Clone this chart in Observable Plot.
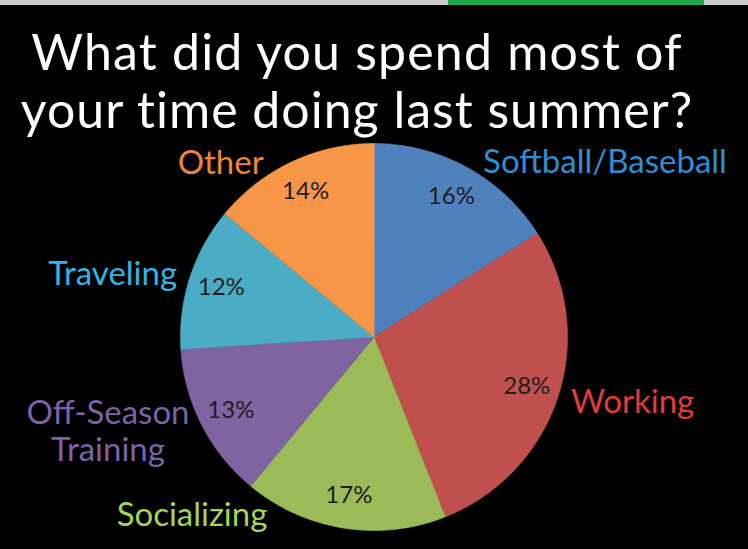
<!DOCTYPE html>
<html><head><meta charset="utf-8">
<script src="https://cdn.jsdelivr.net/npm/d3@7"></script>
<script src="https://cdn.jsdelivr.net/npm/@observablehq/plot@0.6"></script>
<style>
html,body{margin:0;padding:0;background:#000;}
#page{position:relative;width:748px;height:549px;overflow:hidden;background:#000;}
#strip{position:absolute;left:0;top:0;width:748px;height:5px;background:#cccccc;}
#strip .seg{position:absolute;left:448px;top:0;width:256px;height:5px;background:#1ca84b;}
#title{position:absolute;left:0;top:22px;width:714px;text-align:center;color:#fff;
  font-family:Lato, sans-serif;font-size:50px;line-height:58px;}
#title div{white-space:nowrap;}
#chart{position:absolute;left:0;top:140px;}
</style></head>
<body>
<div id="page">
  <div id="strip"><div class="seg"></div></div>
  <div id="title"></div>
  <div id="chart"></div>
</div>
<script>
// ---- data ----
const titleLines = ["What did you spend most of", "your time doing last summer?"];
const categories = ["Softball/Baseball", "Working", "Socializing", "Off-Season\nTraining", "Traveling", "Other"];
const percents = [16, 28, 17, 13, 12, 14];
const sliceColors = ["#4f81bd", "#c0504d", "#9bbb59", "#8064a2", "#4bacc6", "#f79646"];
const labelColors = ["#2f8fd2", "#e03c3e", "#a5d45c", "#7c62a8", "#2fb5e6", "#f0872e"];

// ---- title ----
const titleEl = d3.select("#title");
const titleSpacing = ["1.2px", "1px"];
titleLines.forEach((t, i) => titleEl.append("div").style("letter-spacing", titleSpacing[i]).text(t));

// ---- pie geometry ----
const W = 748, H = 409, cx = 373.5, cy = 196.5, R = 193.5;
const total = d3.sum(percents);
let acc = 0;
const slices = categories.map((name, i) => {
  const a0 = acc / total * 2 * Math.PI; acc += percents[i];
  const a1 = acc / total * 2 * Math.PI;
  return {name, value: percents[i], a0, a1, mid: (a0 + a1) / 2, i};
});
const outline = slices.flatMap(s => {
  const n = Math.max(2, Math.ceil((s.a1 - s.a0) / (Math.PI / 360)));
  const pts = [{name: s.name, x: 0, y: 0}];
  for (let k = 0; k <= n; k++) {
    const a = s.a0 + (s.a1 - s.a0) * k / n;
    pts.push({name: s.name, x: Math.sin(a), y: Math.cos(a)});
  }
  return pts;
});

// ---- outer name labels: just outside the slice, kept inside the frame ----
const nameSize = 33, lineH = 1.12;
const ctx = document.createElement("canvas").getContext("2d");
ctx.font = `${nameSize}px Lato`;
const rLab = 1.07, step = Math.PI / 360;
const nameLabels = slices.map(s => {
  const lines = s.name.split("\n");
  const w = d3.max(lines, l => ctx.measureText(l).width) / R;
  const h = (lines.length * nameSize * lineH) / R;
  const yTop = cy / R, yBot = -(H - cy) / R;
  const place = a => {
    const ax = rLab * Math.sin(a), ay = rLab * Math.cos(a);
    const sx = Math.sin(a);
    const x = sx > 0.05 ? ax + w / 2 : sx < -0.05 ? ax - w / 2 : ax;
    return {x, y: ay};
  };
  let a = s.mid, p, guard = 0;
  const side = Math.sin(s.mid) >= 0 ? 1 : -1;
  while (guard++ < 400) {
    p = place(a);
    if (p.y - h / 2 < yBot + 16 / R) { a -= side * step; continue; }
    if (p.y + h / 2 > yTop - 2 / R) { a += side * step; continue; }
    break;
  }
  return {name: s.name, x: p.x, y: p.y, color: labelColors[s.i]};
});

const chart = Plot.plot({
  width: W, height: H, margin: 0,
  style: {background: "transparent"},
  x: {domain: [-cx / R, (W - cx) / R], axis: null},
  y: {domain: [-(H - cy) / R, cy / R], axis: null},
  color: {domain: categories, range: sliceColors},
  marks: [
    Plot.line(outline, {x: "x", y: "y", z: "name", fill: "name", stroke: "name", strokeWidth: 0.6, curve: "linear-closed"}),
    Plot.text(slices, {
      x: d => 0.83 * Math.sin(d.mid), y: d => 0.83 * Math.cos(d.mid),
      text: d => d.value + "%", fill: "#1e1e1e", fontSize: 24, fontFamily: "Lato",
      textAnchor: "middle", lineAnchor: "middle"
    }),
    ...nameLabels.map(l => Plot.text([l], {
      x: "x", y: "y", text: "name", fill: l.color, fontSize: nameSize, fontFamily: "Lato",
      textAnchor: "middle", lineAnchor: "middle", lineHeight: lineH
    }))
  ]
});
document.getElementById("chart").appendChild(chart);
</script>
</body></html>
